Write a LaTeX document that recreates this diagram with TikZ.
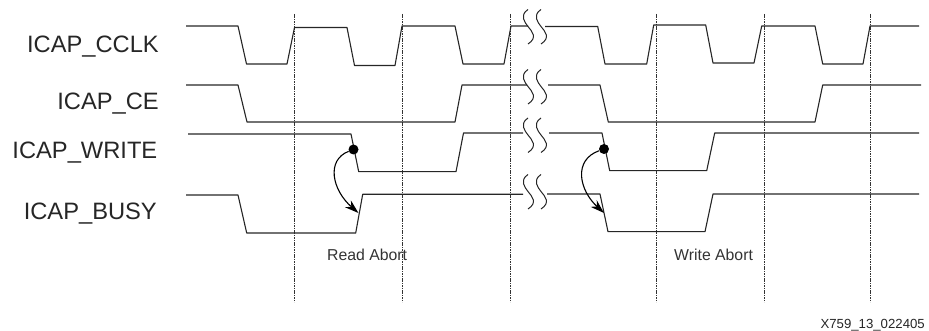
\documentclass[tikz,border=0pt]{standalone}
\usepackage{fontspec}
\setmainfont{Liberation Sans}
\usetikzlibrary{arrows.meta}

\tikzset{
  wave/.style={draw=black!85,line width=1.1pt,line join=round},
  gridline/.style={draw=black!80,line width=0.6pt,dash pattern=on 1.6pt off 0.8pt},
  breakline/.style={draw=black!85,line width=1pt},
  abortarrow/.style={draw=black,line width=1.1pt,-{Stealth[length=14pt,width=9pt]}},
  signal/.style={anchor=base east,inner sep=0pt,font=\fontsize{23.7}{24}\selectfont,text=black!85},
  note/.style={anchor=base west,inner sep=0pt,font=\fontsize{15.8}{16}\selectfont,text=black!80},
  partno/.style={anchor=base east,inner sep=0pt,font=\fontsize{13.2}{14}\selectfont,text=black!85},
  abortdot/.style={circle,fill=black,inner sep=0pt,minimum size=10pt}
}

\begin{document}
\begin{tikzpicture}[x=1pt,y=-1pt]
  \useasboundingbox (0,0) rectangle (929,331);

  % signal names
  \node[signal] (cclk) at (159,52.3) {ICAP\_CCLK};
  \node[signal] (ce) at (159,110) {ICAP\_CE};
  \node[signal] (write) at (157.5,159) {ICAP\_WRITE};
  \node[signal] (busy) at (157,219.3) {ICAP\_BUSY};

  % clock edges
  \foreach \x in {294.7,402.3,510.7,656.3,764.7,870.7} {
    \draw[gridline] (\x,14) -- (\x,302);
  }

  % ICAP_CCLK
  \draw[wave] (186,26) -- (238,26) -- (246.5,64) -- (287,64) -- (294.5,27.5) -- (347,27.5)
    -- (354.5,65.5) -- (395,65.5) -- (402,26) -- (455,26) -- (463,64) -- (504,64) -- (511,26) -- (528,26);
  \draw[wave] (545,26.5) -- (597.7,26.5) -- (605,64) -- (646.7,64) -- (653.7,25) -- (705.7,25)
    -- (713,63) -- (754,63) -- (761.7,26) -- (815,26) -- (822.7,64) -- (863,64) -- (870,26) -- (919,26);

  % ICAP_CE
  \draw[wave] (186,85) -- (238,85) -- (247,122) -- (455,122) -- (462,85) -- (527,85);
  \draw[wave] (548,85) -- (600,85) -- (608.3,122) -- (815,122) -- (822.7,85) -- (921,85);

  % ICAP_WRITE
  \draw[wave] (188,134) -- (351,134) -- (358.7,171.7) -- (456,171.7) -- (463.5,133) -- (523,133);
  \draw[wave] (549,133) -- (602,133) -- (609.7,170.7) -- (706.7,170.7) -- (714.7,133) -- (919,133);

  % ICAP_BUSY
  \draw[wave] (186,195) -- (238,195) -- (246.7,233) -- (355.7,233) -- (362.7,194.3) -- (523,194.3);
  \draw[wave] (547,194) -- (600,194) -- (608,231.7) -- (705,231.7) -- (713,194) -- (919,194);

  % breaks in the time axis
  \foreach \y in {26.5,86.5,135,191.5} {
    \foreach \x in {528,541} {
      \draw[breakline] (\x,\y-17) .. controls (\x-9,\y-11) and (\x-3,\y-4) .. (\x,\y)
        .. controls (\x+4,\y+5) and (\x+10,\y+11) .. (\x,\y+17.5);
    }
  }

  % aborts
  \node[abortdot] (readdot) at (353.5,149.5) {};
  \node[abortdot] (writedot) at (604,149) {};
  \coordinate (readtip) at (358.5,213);
  \coordinate (writetip) at (604,213);
  \draw[abortarrow] (readdot) .. controls (326,160) and (332,190) .. (readtip);
  \draw[abortarrow] (writedot) .. controls (573,160) and (579,190) .. (writetip);

  \node[note] (readabort) at (327,260) {Read Abort};
  \node[note] (writeabort) at (674,260) {Write Abort};
  \node[partno] (partno) at (925,328) {X759\_13\_022405};
\end{tikzpicture}
\end{document}
